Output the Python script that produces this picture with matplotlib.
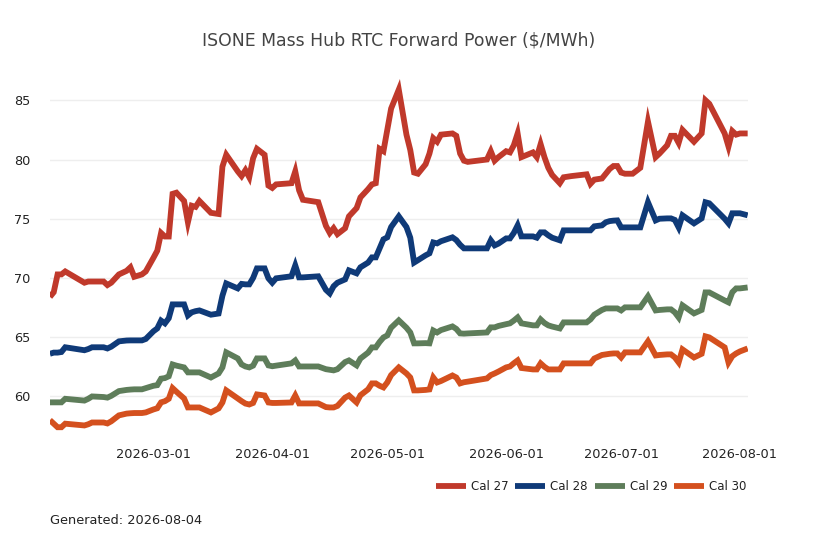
import matplotlib
matplotlib.use("Agg")
import matplotlib.pyplot as plt
import matplotlib.dates as mdates
import pandas as pd

dates = [
    "2026-02-02", "2026-02-03", "2026-02-04", "2026-02-05", "2026-02-06",
    "2026-02-11", "2026-02-12", "2026-02-13", "2026-02-16", "2026-02-17",
    "2026-02-18", "2026-02-20", "2026-02-22", "2026-02-23", "2026-02-24",
    "2026-02-26", "2026-02-27", "2026-03-01", "2026-03-02", "2026-03-03",
    "2026-03-04", "2026-03-05", "2026-03-06", "2026-03-07", "2026-03-09",
    "2026-03-10", "2026-03-11", "2026-03-12", "2026-03-13", "2026-03-16",
    "2026-03-18", "2026-03-19", "2026-03-20", "2026-03-23", "2026-03-24",
    "2026-03-25", "2026-03-26", "2026-03-27", "2026-03-28", "2026-03-30",
    "2026-03-31", "2026-04-01", "2026-04-02", "2026-04-06", "2026-04-07",
    "2026-04-08", "2026-04-09", "2026-04-13", "2026-04-15", "2026-04-16",
    "2026-04-17", "2026-04-18", "2026-04-20", "2026-04-21", "2026-04-23",
    "2026-04-24", "2026-04-26", "2026-04-27", "2026-04-28", "2026-04-29",
    "2026-04-30", "2026-05-01", "2026-05-02", "2026-05-04", "2026-05-06",
    "2026-05-07", "2026-05-08", "2026-05-09", "2026-05-11", "2026-05-12",
    "2026-05-13", "2026-05-14", "2026-05-15", "2026-05-18", "2026-05-19",
    "2026-05-20", "2026-05-21", "2026-05-22", "2026-05-27", "2026-05-28",
    "2026-05-29", "2026-05-30", "2026-06-01", "2026-06-02", "2026-06-03",
    "2026-06-04", "2026-06-05", "2026-06-08", "2026-06-09", "2026-06-10",
    "2026-06-11", "2026-06-12", "2026-06-13", "2026-06-15", "2026-06-16",
    "2026-06-18", "2026-06-22", "2026-06-23", "2026-06-24", "2026-06-26",
    "2026-06-27", "2026-06-28", "2026-06-29", "2026-06-30", "2026-07-01",
    "2026-07-02", "2026-07-04", "2026-07-06", "2026-07-08", "2026-07-10",
    "2026-07-11", "2026-07-13", "2026-07-14", "2026-07-15", "2026-07-16",
    "2026-07-17", "2026-07-20", "2026-07-22", "2026-07-23", "2026-07-24",
    "2026-07-28", "2026-07-29", "2026-07-30", "2026-07-31", "2026-08-01",
    "2026-08-03",
]

cal27 = [
    68.4, 68.8, 70.3, 70.3, 70.55, 69.6, 69.7, 69.7, 69.7, 69.4,
    69.6, 70.3, 70.6, 70.9, 70.1, 70.3, 70.55, 71.7, 72.3, 73.8,
    73.5, 73.5, 77.1, 77.2, 76.5, 74.7, 76.1, 76.0, 76.5, 75.5,
    75.4, 79.4, 80.4, 79.0, 78.6, 79.1, 78.5, 80.1, 80.9, 80.4,
    77.8, 77.6, 77.9, 78.0, 79.0, 77.4, 76.6, 76.4, 74.4, 73.8,
    74.2, 73.7, 74.2, 75.2, 75.9, 76.8, 77.5, 77.9, 78.0, 80.9,
    80.7, 82.5, 84.3, 85.9, 82.1, 80.8, 78.9, 78.8, 79.6, 80.5,
    81.8, 81.5, 82.1, 82.2, 82.0, 80.5, 79.9, 79.8, 80.0, 80.7,
    79.9, 80.2, 80.7, 80.6, 81.2, 82.2, 80.2, 80.6, 80.2, 81.3,
    80.2, 79.3, 78.7, 78.0, 78.5, 78.6, 78.75, 77.95, 78.3, 78.4,
    78.8, 79.2, 79.45, 79.45, 78.9, 78.8, 78.8, 79.3, 83.2, 80.2,
    80.5, 81.2, 82.0, 82.0, 81.4, 82.5, 81.5, 82.2, 85.0, 84.7,
    82.2, 81.1, 82.4, 82.1, 82.2, 82.2,
]

cal28 = [
    63.6, 63.7, 63.7, 63.75, 64.15, 63.9, 64.0, 64.15, 64.15, 64.05,
    64.2, 64.65, 64.72, 64.73, 64.73, 64.73, 64.85, 65.5, 65.74, 66.4,
    66.17, 66.6, 67.77, 67.77, 67.77, 66.84, 67.1, 67.2, 67.26, 66.9,
    67.0, 68.5, 69.54, 69.12, 69.5, 69.46, 69.46, 70.0, 70.81, 70.81,
    69.97, 69.6, 69.97, 70.14, 71.06, 70.05, 70.05, 70.14, 69.0, 68.7,
    69.3, 69.6, 69.88, 70.64, 70.39, 70.9, 71.3, 71.74, 71.74, 72.5,
    73.26, 73.43, 74.3, 75.2, 74.3, 73.4, 71.3, 71.5, 71.91, 72.08,
    73.0, 72.92, 73.1, 73.43, 73.2, 72.8, 72.5, 72.5, 72.5, 73.18,
    72.75, 72.9, 73.34, 73.34, 73.8, 74.44, 73.51, 73.51, 73.4, 73.85,
    73.85, 73.6, 73.4, 73.18, 74.02, 74.02, 74.02, 74.02, 74.36, 74.44,
    74.7, 74.8, 74.84, 74.86, 74.27, 74.27, 74.27, 74.27, 76.39, 74.86,
    75.0, 75.03, 75.03, 74.9, 74.27, 75.29, 74.61, 75.03, 76.39, 76.3,
    75.0, 74.61, 75.46, 75.46, 75.46, 75.29,
]

cal29 = [
    59.5, 59.5, 59.5, 59.5, 59.8, 59.65, 59.8, 60.0, 59.95, 59.9,
    60.05, 60.45, 60.55, 60.58, 60.6, 60.6, 60.7, 60.9, 60.95, 61.5,
    61.55, 61.7, 62.7, 62.6, 62.45, 62.03, 62.03, 62.03, 62.03, 61.6,
    61.94, 62.45, 63.72, 63.21, 62.7, 62.53, 62.45, 62.6, 63.21, 63.21,
    62.62, 62.55, 62.6, 62.79, 63.04, 62.53, 62.53, 62.53, 62.3, 62.25,
    62.2, 62.3, 62.9, 63.04, 62.62, 63.2, 63.7, 64.14, 64.14, 64.6,
    64.98, 65.15, 65.8, 66.42, 65.8, 65.4, 64.48, 64.48, 64.5, 64.48,
    65.57, 65.4, 65.6, 65.91, 65.7, 65.32, 65.3, 65.32, 65.4, 65.83,
    65.83, 65.95, 66.1, 66.17, 66.4, 66.67, 66.17, 66.0, 66.0, 66.5,
    66.2, 66.0, 65.9, 65.74, 66.25, 66.25, 66.25, 66.5, 66.9, 67.3,
    67.43, 67.43, 67.43, 67.43, 67.26, 67.52, 67.52, 67.52, 68.45, 67.26,
    67.3, 67.35, 67.35, 67.1, 66.67, 67.69, 67.01, 67.3, 68.78, 68.78,
    68.1, 67.94, 68.8, 69.12, 69.12, 69.2,
]

cal30 = [
    58.0, 57.7, 57.4, 57.4, 57.7, 57.55, 57.65, 57.8, 57.8, 57.72,
    57.9, 58.4, 58.55, 58.58, 58.6, 58.6, 58.65, 58.9, 59.0, 59.5,
    59.6, 59.8, 60.7, 60.4, 59.83, 59.07, 59.07, 59.07, 59.07, 58.65,
    58.99, 59.49, 60.51, 59.83, 59.6, 59.4, 59.32, 59.45, 60.17, 60.08,
    59.49, 59.45, 59.45, 59.49, 60.08, 59.41, 59.41, 59.41, 59.1, 59.07,
    59.07, 59.2, 59.9, 60.08, 59.49, 60.1, 60.6, 61.1, 61.1, 60.9,
    60.76, 61.18, 61.8, 62.45, 61.94, 61.6, 60.51, 60.51, 60.55, 60.59,
    61.6, 61.18, 61.3, 61.77, 61.6, 61.1, 61.2, 61.25, 61.52, 61.8,
    61.94, 62.1, 62.45, 62.53, 62.8, 63.04, 62.4, 62.28, 62.28, 62.79,
    62.5, 62.28, 62.28, 62.28, 62.79, 62.79, 62.79, 62.79, 63.2, 63.5,
    63.55, 63.6, 63.63, 63.63, 63.29, 63.72, 63.72, 63.72, 64.65, 63.46,
    63.5, 63.55, 63.55, 63.3, 62.87, 63.97, 63.29, 63.6, 65.07, 64.98,
    64.14, 62.87, 63.4, 63.63, 63.8, 64.05,
]

series_names = ["Cal 27", "Cal 28", "Cal 29", "Cal 30"]
series_values = [cal27, cal28, cal29, cal30]
series_colors = ["#C0392B", "#0F3A78", "#5E7D5A", "#D4501E"]

yticks = [60, 65, 70, 75, 80, 85]
xticks = ["2026-03-01", "2026-04-01", "2026-05-01", "2026-06-01", "2026-07-01", "2026-08-01"]
title = "ISONE Mass Hub RTC Forward Power ($/MWh)"
footer = "Generated: 2026-08-04"

x = pd.to_datetime(dates)

fig = plt.figure(figsize=(8.18, 5.45), dpi=100)
ax = fig.add_axes([0.061, 0.185, 0.853, 0.681])

for name, vals, col in zip(series_names, series_values, series_colors):
    ax.plot(x, vals, color=col, lw=4.2, label=name, solid_joinstyle="miter", solid_capstyle="butt")

ax.set_xlim(x[0], x[-1])
ax.set_ylim(55.97, 87.3)
ax.set_yticks(yticks)
ax.set_xticks(pd.to_datetime(xticks))
ax.xaxis.set_major_formatter(mdates.DateFormatter("%Y-%m-%d"))
ax.tick_params(axis="both", length=0, labelsize=9.3, labelcolor="#222222")
ax.tick_params(axis="x", pad=3)
ax.tick_params(axis="y", pad=14)
ax.grid(axis="y", color="#eeeeee", lw=1)
ax.grid(axis="x", visible=False)
ax.set_axisbelow(True)
for s in ax.spines.values():
    s.set_visible(False)

ax.set_title(title, fontsize=12.4, color="#444444", pad=20)

leg = ax.legend(loc="upper right", bbox_to_anchor=(1.005, -0.083), ncol=4, frameon=False,
                fontsize=8.5, handlelength=2.55, columnspacing=0.6, handletextpad=0.4,
                borderaxespad=0.0)
for t in leg.get_texts():
    t.set_color("#222222")

fig.text(50 / 818, 1 - 520 / 545, footer, ha="left", va="center", fontsize=9.3, color="#222222")

fig.savefig("out.png", dpi=100)
